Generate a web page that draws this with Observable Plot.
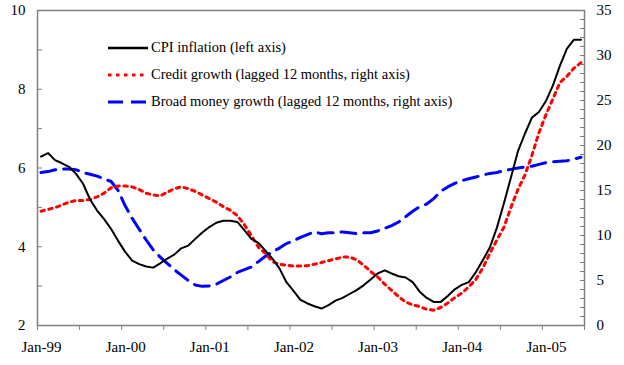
<!DOCTYPE html>
<html><head><meta charset="utf-8">
<script src="https://cdn.jsdelivr.net/npm/d3@7"></script>
<script src="https://cdn.jsdelivr.net/npm/@observablehq/plot@0.6"></script>
<style>
body{margin:0;background:#fff;}
#wrap{position:relative;width:624px;height:365px;font-family:"Liberation Serif","DejaVu Serif",serif;}
#legend{position:absolute;left:108px;top:34px;font-size:14.5px;color:#000;}
.item{display:flex;align-items:center;height:27px;white-space:nowrap;}
.item svg{margin-right:3px;}
</style></head><body>
<div id="wrap"><div id="chart"></div><div id="legend"></div></div>
<script>
// Monthly data, Jan-99 .. Jun-05 (78 months)
const xTickLabels = ["Jan-99","Jan-00","Jan-01","Jan-02","Jan-03","Jan-04","Jan-05"];
const seriesNames = ["CPI inflation (left axis)","Credit growth (lagged 12 months, right axis)","Broad money growth (lagged 12 months, right axis)"];
const cpi = [6.29,6.38,6.2,6.12,6.03,5.85,5.6,5.2,4.92,4.7,4.45,4.15,
  3.87,3.65,3.56,3.5,3.47,3.58,3.7,3.8,3.96,4.03,4.2,4.36,
  4.5,4.61,4.66,4.66,4.63,4.42,4.2,4.1,3.9,3.7,3.45,3.1,
  2.88,2.65,2.56,2.49,2.43,2.52,2.63,2.7,2.8,2.9,3.02,3.17,
  3.32,3.4,3.32,3.25,3.22,3.1,2.86,2.7,2.6,2.6,2.75,2.92,
  3.03,3.1,3.35,3.66,3.98,4.48,5.1,5.75,6.42,6.87,7.28,7.42,
  7.7,8.1,8.6,9.03,9.26,9.26];
const credit = [12.7,12.9,13.1,13.4,13.7,13.9,13.9,14.0,14.3,14.7,15.3,15.5,
  15.5,15.4,15.1,14.7,14.5,14.4,14.8,15.2,15.4,15.2,14.9,14.5,
  14.1,13.7,13.2,12.8,12.2,11.2,10.0,8.7,8.0,7.1,6.8,6.7,
  6.6,6.6,6.65,6.8,7.0,7.2,7.4,7.6,7.6,7.3,6.7,6.0,
  5.4,4.6,3.9,3.2,2.6,2.3,2.1,1.8,1.7,2.0,2.5,3.1,
  3.6,4.3,5.1,6.4,8.0,9.5,10.9,13.1,15.1,16.7,18.9,21.4,
  23.4,25.2,27.0,27.7,28.6,29.2];
const broad = [17.0,17.1,17.3,17.4,17.4,17.3,17.0,16.8,16.6,16.3,16.0,15.0,
  13.3,11.9,10.7,9.5,8.4,7.6,6.9,6.2,5.6,5.0,4.5,4.35,
  4.4,4.6,5.0,5.4,5.9,6.2,6.5,7.1,7.7,8.2,8.6,9.1,
  9.4,9.8,10.1,10.4,10.2,10.3,10.3,10.4,10.3,10.2,10.3,10.3,
  10.5,10.8,11.1,11.5,12.1,12.7,13.2,13.5,14.1,14.9,15.4,15.8,
  16.1,16.3,16.5,16.7,16.9,17.0,17.2,17.35,17.5,17.6,17.7,17.9,
  18.1,18.2,18.25,18.3,18.5,18.7];
const leftTicks = [2,3,4,5,6,7,8,9,10];
const rightTickValues = d3.range(0, 36, 1);
const rightLabelValues = [0,5,10,15,20,25,30,35];

// map right-axis values (0..35) onto left-axis scale (2..10)
const toLeft = v => 2 + v * 8 / 35;
const fromLeft = y => Math.round((y - 2) * 35 / 8);

const rows = cpi.map((c, i) => ({x: i + 0.5, cpi: c, credit: toLeft(credit[i]), broad: toLeft(broad[i])}));
const gray = "#7f7f7f";

const plot = Plot.plot({
  width: 624, height: 365,
  marginLeft: 37, marginRight: 40, marginTop: 10, marginBottom: 40,
  style: {fontFamily: "'Liberation Serif', 'DejaVu Serif', serif", fontSize: "15px", color: "#000", background: "#fff"},
  x: {domain: [0, 78], label: null},
  y: {domain: [2, 10], label: null},
  marks: [
    Plot.line(rows, {x: "x", y: "broad", stroke: "#0000ff", strokeWidth: 3, strokeDasharray: "15,8"}),
    Plot.line(rows, {x: "x", y: "credit", stroke: "#ff0000", strokeWidth: 3, strokeDasharray: "3.5,4.5"}),
    Plot.line(rows, {x: "x", y: "cpi", stroke: "#000", strokeWidth: 2}),
    Plot.axisY(leftTicks, {anchor: "left", tickSize: -5, tickFormat: () => "", stroke: gray, label: null}),
    Plot.axisY(leftTicks.filter(d => d % 2 === 0), {anchor: "left", tickSize: 0, tickPadding: 12, label: null}),
    Plot.axisY(rightTickValues.map(toLeft), {anchor: "right", tickSize: -5, tickFormat: () => "", stroke: gray, label: null}),
    Plot.axisY(rightLabelValues.map(toLeft), {anchor: "right", tickSize: 0, tickPadding: 12, tickFormat: fromLeft, label: null}),
    Plot.axisX(d3.range(0, 79, 6), {anchor: "bottom", tickSize: 5, tickFormat: () => "", stroke: gray, label: null}),
    Plot.axisX(d3.range(0, 79, 12).slice(0, xTickLabels.length), {anchor: "bottom", tickSize: 0, tickPadding: 16, dx: 4, tickFormat: d => xTickLabels[d / 12], label: null}),
    Plot.frame({stroke: gray, strokeWidth: 1.5})
  ]
});
document.getElementById("chart").appendChild(plot);

// legend
const styles = [
  {stroke: "#000", width: 2.5, dash: null},
  {stroke: "#ff0000", width: 3, dash: "3.5,4.5"},
  {stroke: "#0000ff", width: 3, dash: "15,8"}
];
const legend = document.getElementById("legend");
seriesNames.forEach((name, i) => {
  const s = styles[i];
  const div = document.createElement("div");
  div.className = "item";
  div.innerHTML = `<svg width="40" height="8"><line x1="0" x2="40" y1="4" y2="4" stroke="${s.stroke}" stroke-width="${s.width}" ${s.dash ? `stroke-dasharray="${s.dash}"` : ""}/></svg><span>${name}</span>`;
  legend.appendChild(div);
});
</script>
</body></html>
